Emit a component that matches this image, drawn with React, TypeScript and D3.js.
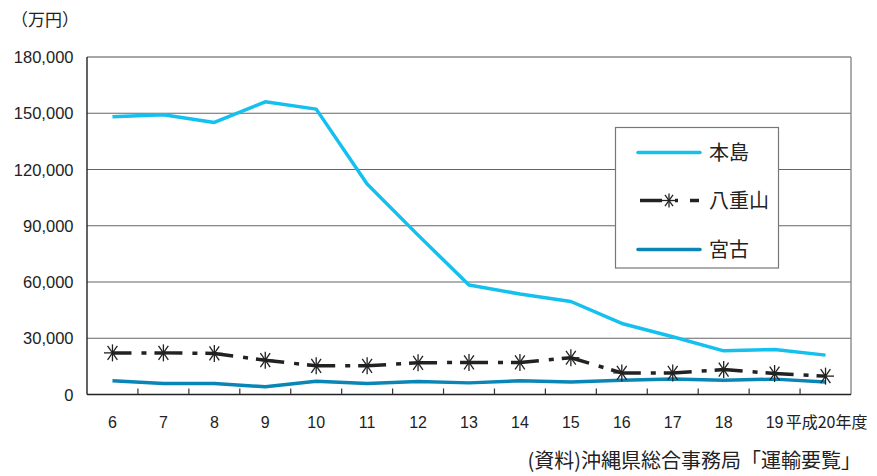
import React from "react";
import * as d3 from "d3";

// 年度 (平成)
const years = ["6", "7", "8", "9", "10", "11", "12", "13", "14", "15", "16", "17", "18", "19", "20"];
const yearLabels = ["6", "7", "8", "9", "10", "11", "12", "13", "14", "15", "16", "17", "18", "19", "平成20年度"];

// 単位：万円
const honto = [148100, 149200, 145100, 156100, 152200, 112300, 85000, 58400, 53600, 49600, 37900, 30800, 23300, 24000, 21000];
const yaeyama = [22200, 22200, 21900, 18300, 15300, 15300, 16900, 17100, 17100, 19600, 11500, 11500, 13300, 11200, 9800];
const miyako = [7300, 5900, 5900, 4100, 7100, 5900, 6900, 6200, 7300, 6700, 7600, 8300, 7600, 8200, 6700];

const yTicks = [0, 30000, 60000, 90000, 120000, 150000, 180000];

const W = 877;
const H = 476;
const left = 87;
const right = 851;
const top = 57;
const bottom = 394.5;

const C_HONTO = "#14c0ee";
const C_MIYAKO = "#0a86b6";
const C_YAEYAMA = "#222";

const sans = "'Liberation Sans', Arial, sans-serif";
const cjk = "'Noto Sans CJK JP', sans-serif";

function Asterisk({ x, y, r = 8 }: { x: number; y: number; r?: number }) {
  const a = (55 * Math.PI) / 180;
  const dx = r * Math.cos(a);
  const dy = r * Math.sin(a);
  return (
    <g stroke={C_YAEYAMA} strokeWidth={1.3} fill="none">
      <line x1={x} y1={y - r} x2={x} y2={y + r} />
      <line x1={x - dx} y1={y - dy} x2={x + dx} y2={y + dy} />
      <line x1={x - dx} y1={y + dy} x2={x + dx} y2={y - dy} />
      <line x1={x - r} y1={y} x2={x + r} y2={y} />
    </g>
  );
}

export default function App() {
  const x = d3.scaleBand<string>().domain(years).range([left, right]);
  const y = d3.scaleLinear().domain([0, 180000]).range([bottom, top]);
  const cx = (d: string) => (x(d) ?? 0) + x.bandwidth() / 2;

  const line = d3
    .line<number>()
    .x((_, i) => cx(years[i]))
    .y((v) => y(v));

  const yaeSegments = yaeyama.slice(1).map((v, i) => [yaeyama[i], v]);

  return (
    <svg width={W} height={H} style={{ position: "absolute", left: 0, top: 0, background: "#fff" }}>
      {/* gridlines */}
      {yTicks.slice(1, -1).map((t) => (
        <line key={t} x1={left} x2={right} y1={y(t)} y2={y(t)} stroke="#666" strokeWidth={1.2} />
      ))}
      {/* top / right frame */}
      <line x1={left} x2={right} y1={top} y2={top} stroke="#8a8a8a" strokeWidth={1.4} />
      <line x1={right} x2={right} y1={top} y2={bottom} stroke="#8a8a8a" strokeWidth={1.4} />
      {/* axes */}
      <line x1={left} x2={left} y1={top} y2={bottom} stroke="#222" strokeWidth={1.4} />
      <line x1={left} x2={right} y1={bottom} y2={bottom} stroke="#222" strokeWidth={1.4} />
      {years.slice(1).map((d) => (
        <line key={d} x1={x(d)} x2={x(d)} y1={bottom} y2={bottom - 6} stroke="#333" strokeWidth={1.2} />
      ))}

      {/* y tick labels */}
      {yTicks.map((t) => (
        <text key={t} x={73.5} y={y(t) + 6} textAnchor="end" fontFamily={sans} fontSize={16.5} fill="#222">
          {d3.format(",")(t)}
        </text>
      ))}
      <text x={11} y={26} fontFamily={cjk} fontSize={17} fill="#222">（万円）</text>

      {/* x tick labels */}
      {years.map((d, i) => (
        <text
          key={d}
          x={i === years.length - 1 ? cx(d) + 1 : cx(d)}
          y={428}
          textAnchor="middle"
          fontFamily={i === years.length - 1 ? cjk : sans}
          fontSize={i === years.length - 1 ? 16 : 16}
          fill="#222"
        >
          {yearLabels[i]}
        </text>
      ))}

      {/* series */}
      <path d={line(miyako) ?? ""} fill="none" stroke={C_MIYAKO} strokeWidth={3.5} strokeLinejoin="round" />
      {yaeSegments.map((s, i) => (
        <line
          key={i}
          x1={cx(years[i])}
          y1={y(s[0])}
          x2={cx(years[i + 1])}
          y2={y(s[1])}
          stroke={C_YAEYAMA}
          strokeWidth={3.5}
          strokeDasharray="19,10,5,8"
        />
      ))}
      {yaeyama.map((v, i) => (
        <Asterisk key={i} x={cx(years[i])} y={y(v)} r={8.5} />
      ))}
      <path d={line(honto) ?? ""} fill="none" stroke={C_HONTO} strokeWidth={3.5} strokeLinejoin="round" />

      {/* legend */}
      <rect x={615.5} y={127.5} width={163} height={140.5} fill="#fff" stroke="#777" strokeWidth={1.2} />
      <line x1={638} x2={700} y1={152.5} y2={152.5} stroke={C_HONTO} strokeWidth={3.5} strokeLinecap="round" />
      <text x={709} y={160} fontFamily={cjk} fontSize={20} fill="#222">本島</text>
      <line x1={640} x2={662} y1={200.5} y2={200.5} stroke={C_YAEYAMA} strokeWidth={3.5} />
      <line x1={675} x2={678} y1={200.5} y2={200.5} stroke={C_YAEYAMA} strokeWidth={3.5} />
      <line x1={690} x2={699} y1={200.5} y2={200.5} stroke={C_YAEYAMA} strokeWidth={3.5} />
      <Asterisk x={669} y={200.5} r={7} />
      <text x={709} y={208} fontFamily={cjk} fontSize={20} fill="#222">八重山</text>
      <line x1={638} x2={700} y1={249.5} y2={249.5} stroke={C_MIYAKO} strokeWidth={3.5} strokeLinecap="round" />
      <text x={709} y={257} fontFamily={cjk} fontSize={20} fill="#222">宮古</text>

      {/* source */}
      <text x={861} y={468} textAnchor="end" fontFamily={cjk} fontSize={20} fill="#222">
        (資料)沖縄県総合事務局「運輸要覧」
      </text>
    </svg>
  );
}
